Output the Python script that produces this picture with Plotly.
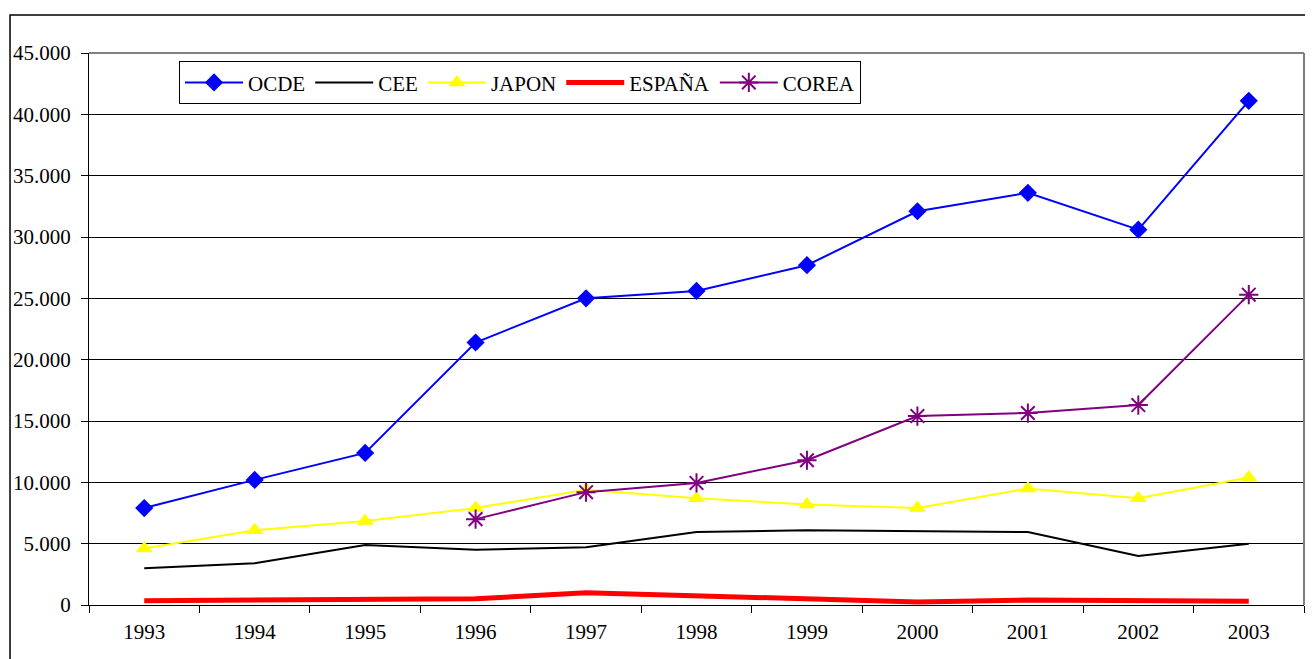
import plotly.graph_objects as go

years = ["1993", "1994", "1995", "1996", "1997", "1998", "1999", "2000", "2001", "2002", "2003"]
ocde = [7900, 10200, 12400, 21400, 25000, 25600, 27700, 32100, 33600, 30600, 41100]
cee = [3000, 3400, 4900, 4500, 4700, 5950, 6100, 6000, 5950, 4000, 5000]
japon = [4600, 6100, 6850, 7900, 9400, 8700, 8200, 7900, 9500, 8700, 10400]
espana = [350, 400, 500, 500, 1000, 750, 500, 250, 400, 400, 300]
corea = [None, None, None, 7000, 9200, 9950, 11800, 15400, 15650, 16300, 25300]

FONT = "Liberation Serif"

fig = go.Figure()
fig.add_trace(go.Scatter(x=years, y=ocde, name="OCDE", mode="lines+markers",
                         line=dict(color="#0000FF", width=2),
                         marker=dict(symbol="diamond", size=14, color="#0000FF")))
fig.add_trace(go.Scatter(x=years, y=cee, name="CEE", mode="lines",
                         line=dict(color="#000000", width=2)))
fig.add_trace(go.Scatter(x=years, y=japon, name="JAPON", mode="lines+markers",
                         line=dict(color="#FFFF00", width=2),
                         marker=dict(symbol="triangle-up", size=15, color="#FFFF00")))
fig.add_trace(go.Scatter(x=years, y=espana, name="ESPAÑA", mode="lines",
                         line=dict(color="#FF0000", width=5)))
fig.add_trace(go.Scatter(x=years, y=corea, name="COREA", mode="lines+markers",
                         line=dict(color="#800080", width=2),
                         marker=dict(symbol="asterisk-open", size=16,
                                     line=dict(color="#800080", width=2))))

fig.update_layout(
    width=1305, height=651,
    margin=dict(l=81, r=9, t=45, b=54, autoexpand=False),
    paper_bgcolor="white", plot_bgcolor="white",
    font=dict(family=FONT, size=21, color="black"),
    separators=",.",
    showlegend=True,
    legend=dict(orientation="h", x=0.0741, y=0.985, xanchor="left", yanchor="top",
                bordercolor="black", borderwidth=1, bgcolor="white",
                font=dict(family=FONT, size=21, color="black"),
                itemwidth=58, tracegroupgap=0),
    xaxis=dict(type="category", range=[-0.5, 10.5], tickson="boundaries",
               ticks="outside", ticklen=7, tickcolor="black",
               showline=True, linecolor="black", linewidth=1,
               showgrid=False, ticklabelstandoff=8, automargin=False,
               tickfont=dict(family=FONT, size=21, color="black")),
    yaxis=dict(range=[0, 45000], dtick=5000, tickformat=",d",
               ticks="outside", ticklen=7, tickcolor="black",
               showline=True, linecolor="black", linewidth=1,
               showgrid=True, gridcolor="#000000", gridwidth=1,
               ticklabelstandoff=6, automargin=False,
               tickfont=dict(family=FONT, size=21, color="black"), zeroline=False),
    shapes=[
        dict(type="line", xref="paper", yref="paper", x0=0, x1=1, y0=1, y1=1,
             line=dict(color="#808080", width=2)),
        dict(type="line", xref="paper", yref="paper", x0=1, x1=1, y0=0, y1=1,
             line=dict(color="#808080", width=2)),
        dict(type="rect", xref="paper", yref="paper", x0=-0.065, x1=1.02, y0=-0.2, y1=1.0688,
             line=dict(color="black", width=1.5), layer="below"),
    ],
)

fig.write_html("out.html")
